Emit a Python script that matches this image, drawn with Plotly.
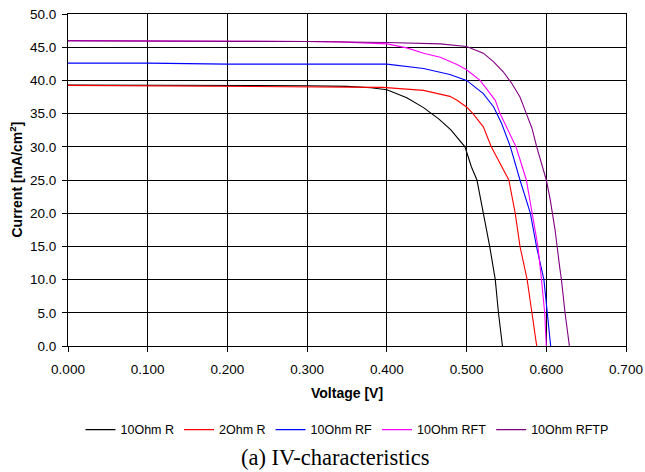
import plotly.graph_objects as go

# ---- data ----
names = ["10Ohm R", "2Ohm R", "10Ohm RF", "10Ohm RFT", "10Ohm RFTP"]
colors = ["#000000", "#ff0000", "#0000ff", "#ff00ff", "#800080"]

v_r10 = [0.000, 0.100, 0.200, 0.300, 0.350, 0.380, 0.400, 0.425, 0.446, 0.465, 0.480,
         0.498, 0.506, 0.513, 0.521, 0.529, 0.536, 0.540, 0.545]
i_r10 = [39.3, 39.3, 39.25, 39.2, 39.1, 38.9, 38.6, 37.4, 35.9, 34.2, 32.6,
         30.0, 27.0, 25.0, 20.0, 15.0, 10.0, 5.0, 0.0]

v_r2 = [0.000, 0.100, 0.200, 0.300, 0.350, 0.395, 0.446, 0.479, 0.488, 0.500, 0.508,
        0.521, 0.531, 0.544, 0.553, 0.561, 0.567, 0.576, 0.582, 0.588]
i_r2 = [39.25, 39.2, 39.05, 39.05, 39.0, 38.95, 38.5, 37.6, 37.0, 36.0, 35.0,
        33.0, 30.0, 27.0, 25.0, 20.0, 15.0, 10.0, 5.0, 0.0]

v_rf = [0.000, 0.100, 0.200, 0.300, 0.400, 0.446, 0.467, 0.479, 0.500, 0.521, 0.534,
        0.544, 0.555, 0.567, 0.580, 0.5877, 0.597, 0.601, 0.6055]
i_rf = [42.6, 42.6, 42.45, 42.45, 42.45, 41.8, 41.3, 40.9, 40.0, 38.0, 36.0,
        33.5, 30.0, 25.0, 20.0, 15.0, 10.0, 5.0, 0.0]

v_rft = [0.000, 0.100, 0.200, 0.300, 0.341, 0.400, 0.425, 0.446, 0.467, 0.488, 0.500,
         0.517, 0.536, 0.542, 0.552, 0.562, 0.575, 0.582, 0.5895, 0.594, 0.598, 0.600]
i_rft = [46.0, 46.0, 45.9, 45.85, 45.8, 45.5, 44.9, 44.1, 43.5, 42.4, 41.6,
         40.0, 37.0, 35.0, 32.5, 30.0, 25.0, 20.0, 15.0, 10.0, 5.0, 0.0]

v_rftp = [0.000, 0.100, 0.200, 0.300, 0.400, 0.467, 0.500, 0.521, 0.534, 0.546, 0.557,
          0.567, 0.575, 0.582, 0.588, 0.600, 0.605, 0.611, 0.617, 0.619, 0.6235, 0.629]
i_rftp = [45.95, 45.95, 45.9, 45.85, 45.7, 45.5, 45.1, 44.1, 42.8, 41.3, 39.5,
          37.5, 35.0, 32.8, 30.0, 25.0, 22.0, 17.5, 11.7, 10.0, 5.0, 0.0]

series_v = [v_r10, v_r2, v_rf, v_rft, v_rftp]
series_i = [i_r10, i_r2, i_rf, i_rft, i_rftp]

x_title = "Voltage [V]"
y_title = "Current [mA/cm<sup>2</sup>]"
caption = "(a) IV-characteristics"

font_sans = "Liberation Sans, Arial, sans-serif"
font_serif = "Liberation Serif, Times New Roman, serif"

fig = go.Figure()
for n, c, vx, iy in zip(names, colors, series_v, series_i):
    fig.add_trace(go.Scatter(x=vx, y=iy, mode="lines", name=n,
                             line=dict(color=c, width=1.1)))

fig.update_layout(
    width=645, height=472,
    margin=dict(l=68, r=19, t=14, b=126, autoexpand=False),
    paper_bgcolor="white", plot_bgcolor="white",
    font=dict(family=font_sans, size=13, color="black"),
    showlegend=True,
    legend=dict(orientation="h", x=0.5, xanchor="center", y=-0.253, yanchor="middle",
                font=dict(size=12.5, family=font_sans), itemwidth=30,
                tracegroupgap=0),
    annotations=[
        dict(text=caption, xref="paper", yref="paper", x=0.479, y=-0.337,
             xanchor="center", yanchor="middle", showarrow=False,
             font=dict(family=font_serif, size=22.5, color="black")),
        dict(text="<b>" + x_title + "</b>", xref="paper", yref="paper", x=0.5, y=-0.1416,
             xanchor="center", yanchor="middle", showarrow=False,
             font=dict(family=font_sans, size=14, color="black")),
        dict(text="<b>" + y_title + "</b>", xref="paper", yref="paper", x=-0.0923, y=0.503,
             xanchor="center", yanchor="middle", showarrow=False, textangle=-90,
             font=dict(family=font_sans, size=14, color="black")),
    ],
)
fig.update_xaxes(range=[0, 0.7], dtick=0.1, tick0=0, tickformat=".3f",
                 showgrid=True, gridcolor="black", gridwidth=1,
                 showline=True, linecolor="black", linewidth=1, mirror=True,
                 ticks="outside", ticklen=5, tickcolor="black",
                 zeroline=False, ticklabelstandoff=6,
                 tickfont=dict(size=13.5))
fig.update_yaxes(range=[0, 50], dtick=5, tick0=0, tickformat=".1f",
                 showgrid=True, gridcolor="black", gridwidth=1,
                 showline=True, linecolor="black", linewidth=1, mirror=True,
                 ticks="outside", ticklen=5, tickcolor="black",
                 zeroline=False, ticklabelstandoff=3,
                 tickfont=dict(size=13.5))

# remove the browser's default 8px body margin so the figure sits at (0, 0)
fig.write_html("out.html",
               config={"displayModeBar": False},
               post_script="document.body.style.margin='0px';"
                           "document.documentElement.style.overflow='hidden';")
